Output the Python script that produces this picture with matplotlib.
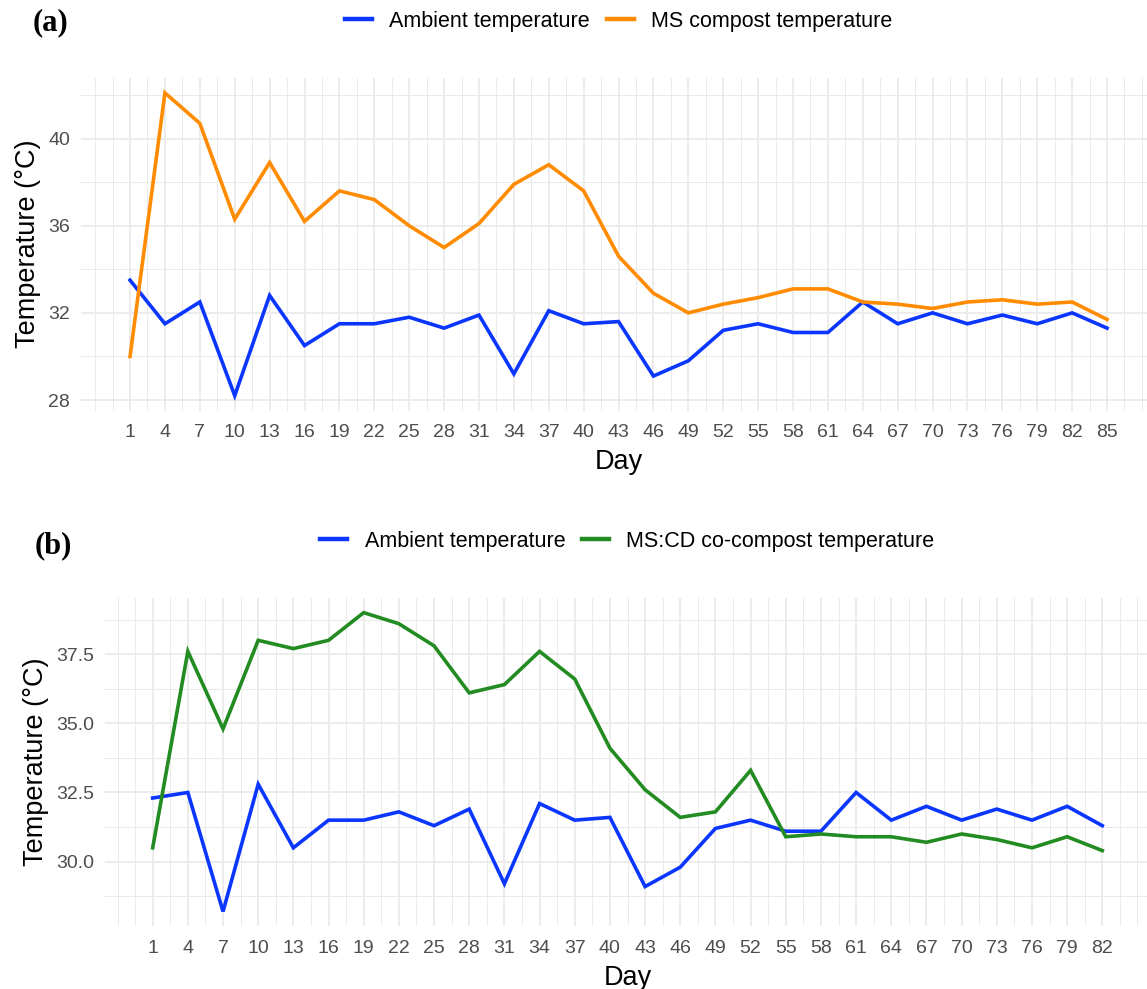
import matplotlib
matplotlib.use("Agg")
import matplotlib.pyplot as plt
from matplotlib.lines import Line2D
import numpy as np

# ---------------- data ----------------
days_a = list(range(1, 86, 3))
ambient_a = [33.5, 31.5, 32.5, 28.2, 32.8, 30.5, 31.5, 31.5, 31.8, 31.3,
             31.9, 29.2, 32.1, 31.5, 31.6, 29.1, 29.8, 31.2, 31.5, 31.1,
             31.1, 32.5, 31.5, 32.0, 31.5, 31.9, 31.5, 32.0, 31.3]
ms_compost = [30.0, 42.1, 40.7, 36.3, 38.9, 36.2, 37.6, 37.2, 36.0, 35.0,
              36.1, 37.9, 38.8, 37.6, 34.6, 32.9, 32.0, 32.4, 32.7, 33.1,
              33.1, 32.5, 32.4, 32.2, 32.5, 32.6, 32.4, 32.5, 31.7]

days_b = list(range(1, 83, 3))
ambient_b = [32.3, 32.5, 28.2, 32.8, 30.5, 31.5, 31.5, 31.8, 31.3, 31.9,
             29.2, 32.1, 31.5, 31.6, 29.1, 29.8, 31.2, 31.5, 31.1, 31.1,
             32.5, 31.5, 32.0, 31.5, 31.9, 31.5, 32.0, 31.3]
co_compost = [30.5, 37.6, 34.8, 38.0, 37.7, 38.0, 39.0, 38.6, 37.8, 36.1,
              36.4, 37.6, 36.6, 34.1, 32.6, 31.6, 31.8, 33.3, 30.9, 31.0,
              30.9, 30.9, 30.7, 31.0, 30.8, 30.5, 30.9, 30.4]

yticks_a = [28, 32, 36, 40]
yminor_a = [30, 34, 38, 42]
yticks_b = [30.0, 32.5, 35.0, 37.5]
yminor_b = [28.75, 31.25, 33.75, 36.25, 38.75]

labels_a = ["Ambient temperature", "MS compost temperature"]
labels_b = ["Ambient temperature", "MS:CD co-compost temperature"]

BLUE = "#0A36FF"
ORANGE = "#FF8C00"
GREEN = "#228B22"
GRID = "#EBEBEB"
TICKC = "#4D4D4D"

plt.rcParams['font.family'] = ['Liberation Sans', 'DejaVu Sans']

W, H = 1147, 989
fig = plt.figure(figsize=(W / 100, H / 100), dpi=100)


def px_axes(left, right, top, bottom):
    return fig.add_axes([left / W, 1 - bottom / H, (right - left) / W, (bottom - top) / H])


def expand(vals, mult=0.05):
    lo, hi = min(vals), max(vals)
    d = (hi - lo) * mult
    return lo - d, hi + d


def style(ax, days, yt, ym):
    xt = days
    step = 3
    ext = [days[0] - step] + days + [days[-1] + step]
    xminor = [ext[0]] + [d + step / 2 for d in ext[:-1]] + [ext[-1]]
    xminor = [m for m in xminor if m not in xt]
    ax.set_xticks(xt)
    ax.set_xticks(xminor, minor=True)
    ax.set_yticks(yt)
    ax.set_yticks(ym, minor=True)
    ax.grid(which='major', color=GRID, lw=1.3)
    ax.grid(which='minor', color=GRID, lw=0.7)
    ax.set_axisbelow(True)
    for s in ax.spines.values():
        s.set_visible(False)
    ax.tick_params(which='both', length=0)
    ax.tick_params(axis='x', pad=9.5, labelsize=14, labelcolor=TICKC)
    ax.tick_params(axis='y', pad=8, labelsize=14, labelcolor=TICKC)
    ax.set_xlabel("Day", fontsize=19.5, labelpad=6)
    ax.set_ylabel("Temperature (°C)", fontsize=19.5, labelpad=5)


# ---------------- panel (a) ----------------
ax1 = px_axes(81.2, 1155.9, 77.7, 410.8)
ax1.plot(days_a, ambient_a, color=BLUE, lw=2.6, solid_joinstyle='miter')
ax1.plot(days_a, ms_compost, color=ORANGE, lw=2.6, solid_joinstyle='miter')
ax1.set_xlim(*expand(days_a))
ax1.set_ylim(*expand(ambient_a + ms_compost))
style(ax1, days_a, yticks_a, yminor_a)

# ---------------- panel (b) ----------------
ax2 = px_axes(105.2, 1149.8, 597.7, 926.4)
ax2.plot(days_b, ambient_b, color=BLUE, lw=2.6, solid_joinstyle='miter')
ax2.plot(days_b, co_compost, color=GREEN, lw=2.6, solid_joinstyle='miter')
ax2.set_xlim(*expand(days_b))
ax2.set_ylim(*expand(ambient_b + co_compost))
style(ax2, days_b, yticks_b, yminor_b)

# ---------------- legends ----------------
def add_legend(colors, labels, cx, cy):
    handles = [Line2D([], [], color=c, lw=3.2) for c in colors]
    fig.legend(handles, labels, loc='center', bbox_to_anchor=(cx / W, 1 - cy / H),
               ncol=2, frameon=False, fontsize=15.5, handlelength=1.25,
               handletextpad=0.8, columnspacing=0.8, borderpad=0, borderaxespad=0)

add_legend([BLUE, ORANGE], labels_a, 618.5, 21)
add_legend([BLUE, GREEN], labels_b, 627.5, 541)

# ---------------- panel letters ----------------
fig.text(33 / W, 1 - 23 / H, "(a)", family=['Liberation Serif', 'DejaVu Serif'],
         fontweight='bold', fontsize=22, va='center', ha='left')
fig.text(35 / W, 1 - 546 / H, "(b)", family=['Liberation Serif', 'DejaVu Serif'],
         fontweight='bold', fontsize=22, va='center', ha='left')

fig.savefig("out.png", dpi=100, facecolor='white')
